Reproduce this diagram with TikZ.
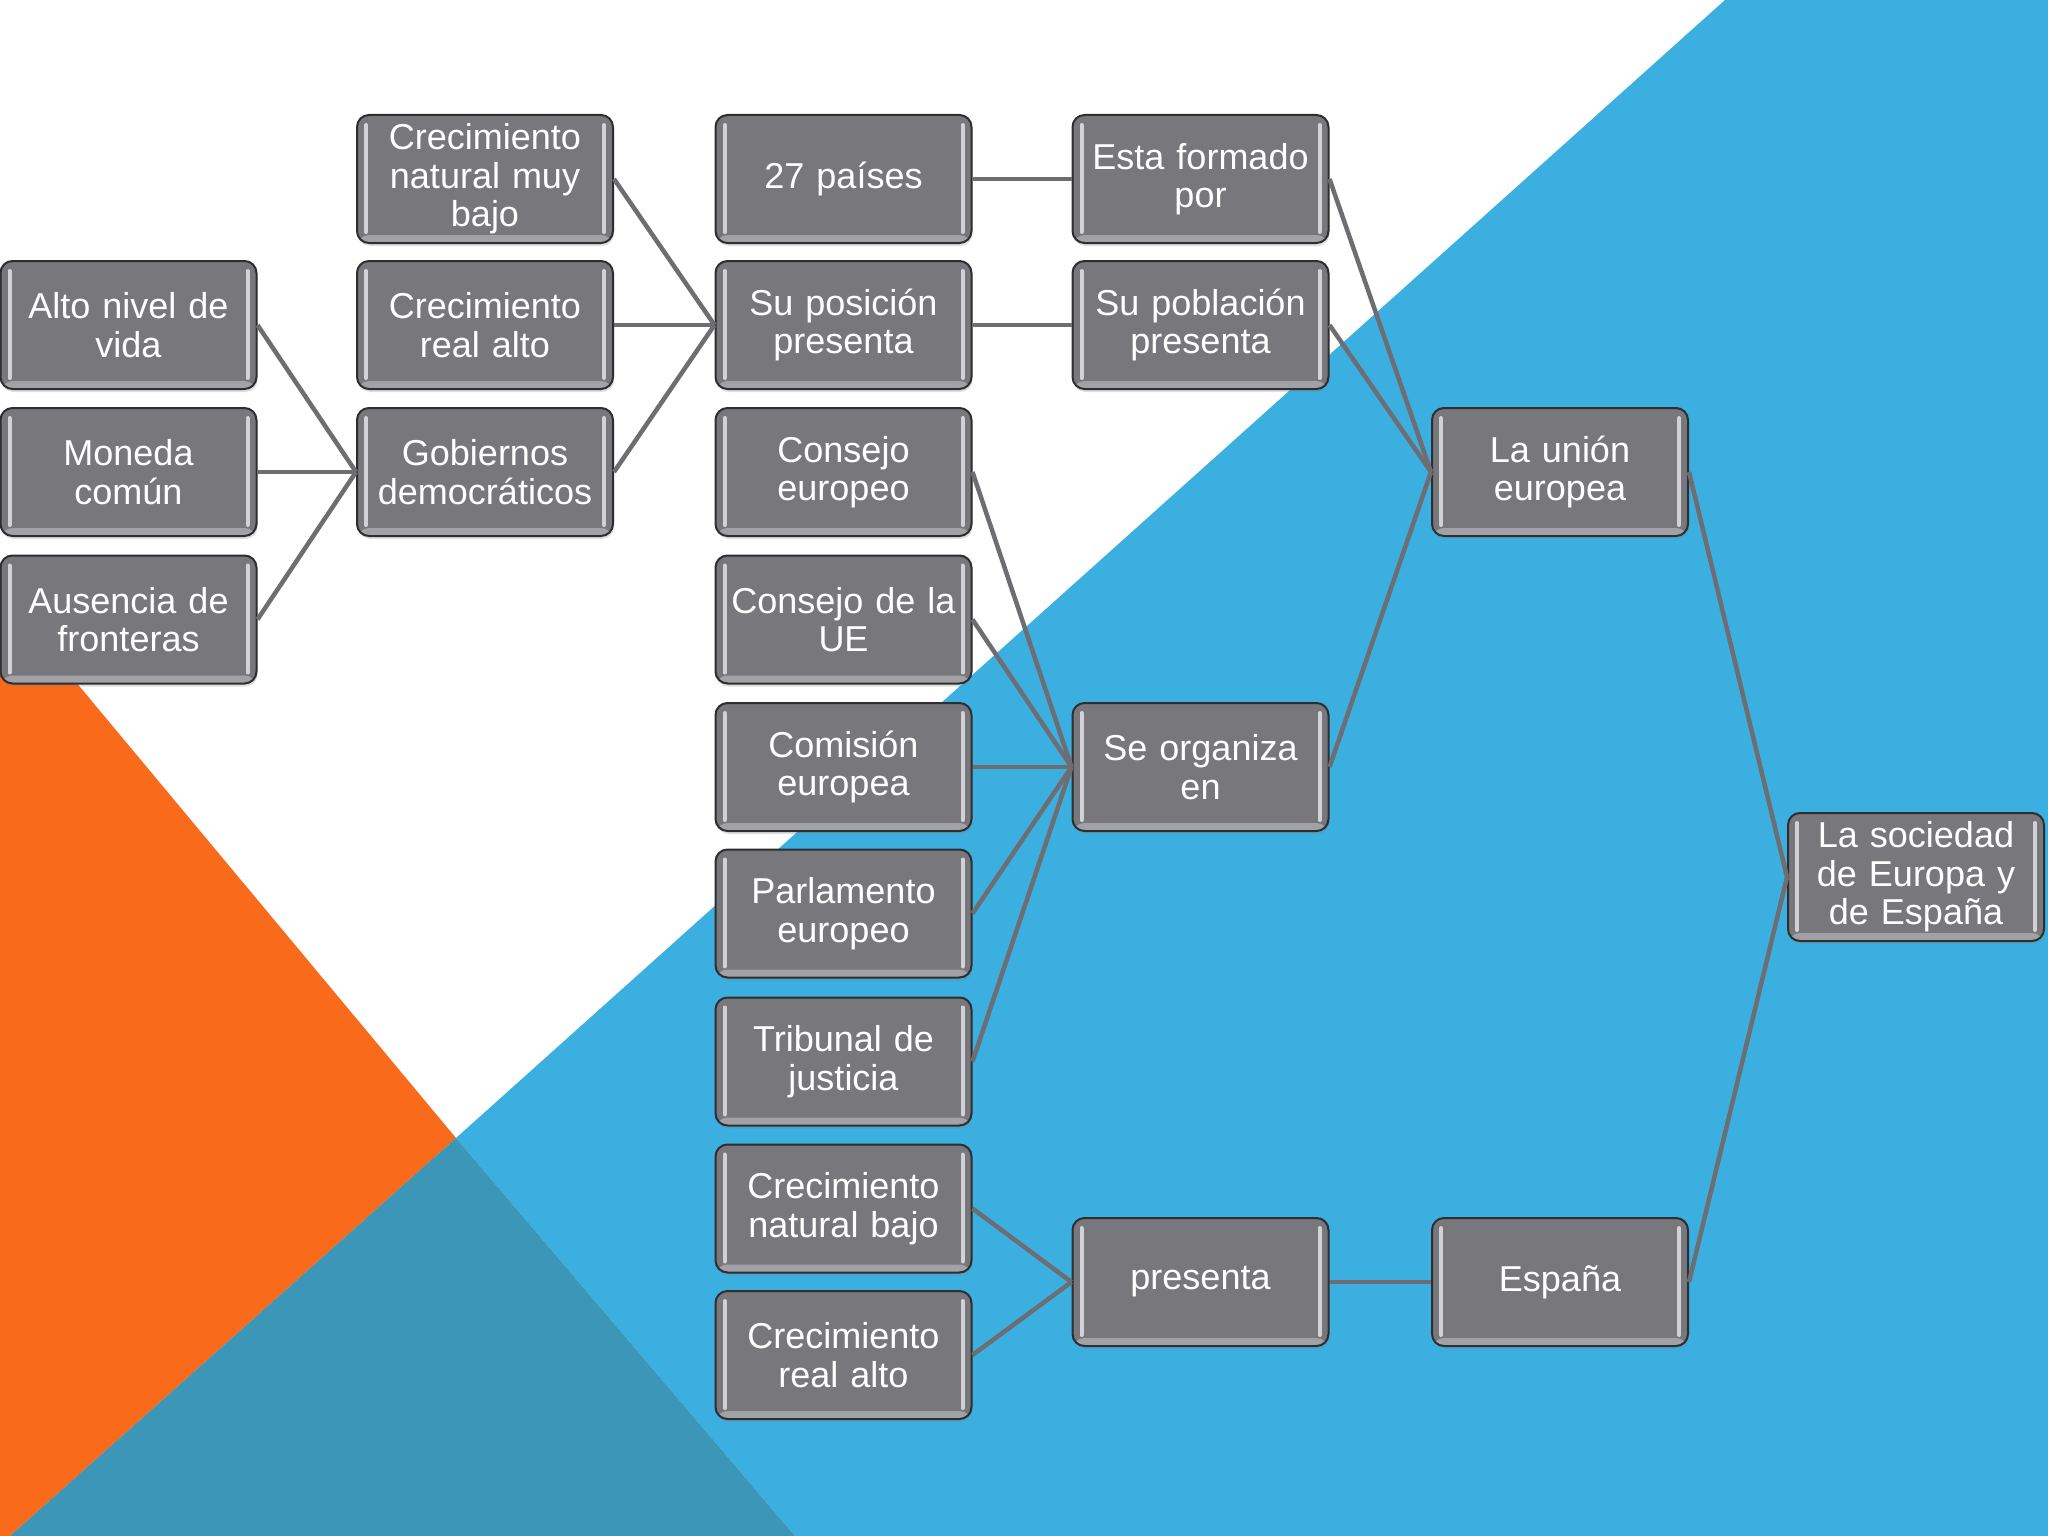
\documentclass[tikz,border=0pt]{standalone}
\usepackage{fontspec}
\setmainfont{Liberation Sans}
\usetikzlibrary{shadows}

\definecolor{skyblue}{HTML}{3AAFE0}
\definecolor{flame}{HTML}{F96A1B}
\definecolor{deepteal}{HTML}{3B96B7}
\definecolor{boxgray}{HTML}{78787C}
\definecolor{boxedge}{HTML}{2E2E30}
\definecolor{rimlight}{HTML}{D2D2D6}
\definecolor{rimlow}{HTML}{A2A2A6}
\definecolor{linkgray}{HTML}{6E6E72}

\begin{document}
\begin{tikzpicture}[x=1pt,y=-1pt]
  \tikzstyle{box}=[rectangle,rounded corners=12pt,minimum width=256pt,minimum height=128pt,
                   inner sep=0pt,text width=250pt,align=center,text=white,
                   font=\fontsize{36}{38.5}\selectfont,
                   fill=boxgray,draw=boxedge,line width=2pt,
                   drop shadow={opacity=0.25,shadow xshift=1pt,shadow yshift=-3pt},
                   path picture={
                     \fill[rimlow] (path picture bounding box.south west) rectangle
                       ([yshift=8pt]path picture bounding box.south east);
                     \draw[rimlight,line width=4pt,line cap=round,rounded corners=0pt]
                       ([xshift=9pt,yshift=-10pt]path picture bounding box.north west) --
                       ([xshift=9pt,yshift=11pt]path picture bounding box.south west)
                       ([xshift=-9pt,yshift=-10pt]path picture bounding box.north east) --
                       ([xshift=-9pt,yshift=11pt]path picture bounding box.south east);
                   }]
  \tikzstyle{every edge}=[draw=linkgray,line width=4.5pt]

  \useasboundingbox (0,0) rectangle (2048,1536);

  % background
  \fill[skyblue] (1725,0) -- (2048,0) -- (2048,1536) -- (795,1536) -- (456,1138) -- cycle;
  \fill[flame] (0,591) -- (456,1138) -- (10,1536) -- (0,1536) -- cycle;
  \fill[deepteal] (456,1138) -- (795,1536) -- (10,1536) -- cycle;

  % first column
  \node[box] (alto)     at (128.5,325)  {Alto nivel de\\vida};
  \node[box] (moneda)   at (128.5,472)  {Moneda\\común};
  \node[box] (ausencia) at (128.5,619.5) {Ausencia de\\fronteras};

  % second column
  \node[box] (muybajo)   at (485,179) {Crecimiento\\natural muy\\bajo};
  \node[box] (realalto)  at (485,325) {Crecimiento\\real alto};
  \node[box] (gobiernos) at (485,472) {Gobiernos\\democráticos};

  % third column
  \node[box] (paises)     at (843.5,179)    {27 países};
  \node[box] (posicion)   at (843.5,325)    {Su posición\\presenta};
  \node[box] (consejo)    at (843.5,472)    {Consejo\\europeo};
  \node[box] (consejoue)  at (843.5,619.5)  {Consejo de la\\UE};
  \node[box] (comision)   at (843.5,767)    {Comisión\\europea};
  \node[box] (parlamento) at (843.5,913.5)  {Parlamento\\europeo};
  \node[box] (tribunal)   at (843.5,1061.5) {Tribunal de\\justicia};
  \node[box] (natbajo)    at (843.5,1208.5) {Crecimiento\\natural bajo};
  \node[box] (realalto2)  at (843.5,1355)   {Crecimiento\\real alto};

  % fourth column
  \node[box] (formado)   at (1200.5,179)  {Esta formado\\por};
  \node[box] (poblacion) at (1200.5,325)  {Su población\\presenta};
  \node[box] (organiza)  at (1200.5,767)  {Se organiza\\en};
  \node[box] (presenta)  at (1200.5,1282) {presenta};

  % last columns
  \node[box] (union)    at (1560,472)  {La unión\\europea};
  \node[box] (espana)   at (1560,1282) {España};
  \node[box] (sociedad) at (1916,877)  {La sociedad\\de Europa y\\de España};

  \path (alto.east)     edge (gobiernos.west)
        (moneda.east)   edge (gobiernos.west)
        (ausencia.east) edge (gobiernos.west)
        (muybajo.east)   edge (posicion.west)
        (realalto.east)  edge (posicion.west)
        (gobiernos.east) edge (posicion.west)
        (paises.east)   edge (formado.west)
        (posicion.east) edge (poblacion.west)
        (consejo.east)    edge (organiza.west)
        (consejoue.east)  edge (organiza.west)
        (comision.east)   edge (organiza.west)
        (parlamento.east) edge (organiza.west)
        (tribunal.east)   edge (organiza.west)
        (natbajo.east)   edge (presenta.west)
        (realalto2.east) edge (presenta.west)
        (formado.east)   edge (union.west)
        (poblacion.east) edge (union.west)
        (organiza.east)  edge (union.west)
        (presenta.east)  edge (espana.west)
        (union.east)  edge (sociedad.west)
        (espana.east) edge (sociedad.west);
\end{tikzpicture}
\end{document}
